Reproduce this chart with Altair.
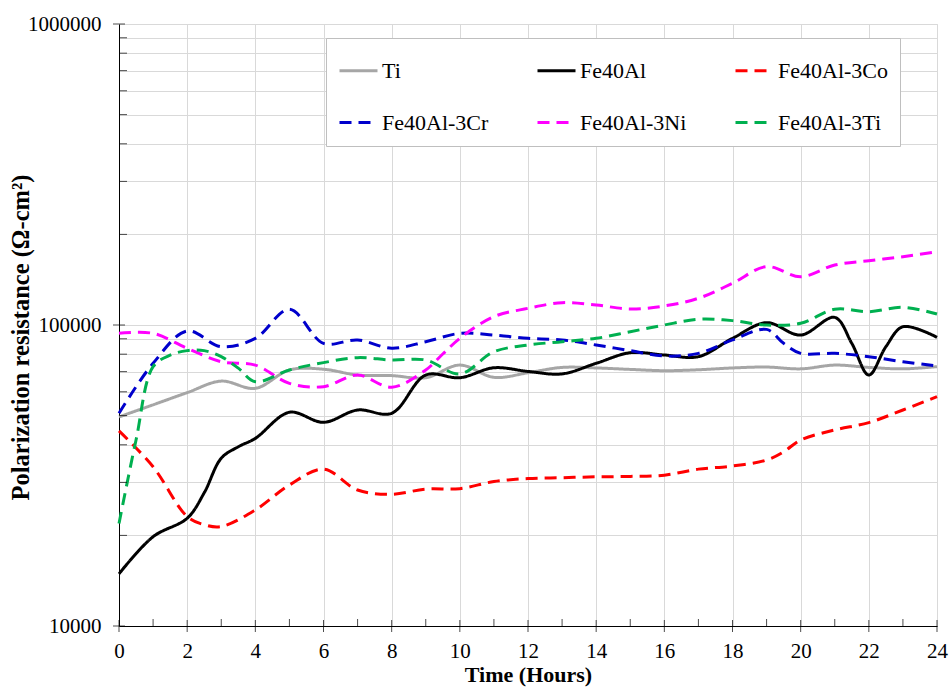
import altair as alt
import pandas as pd

# ---------------- data ----------------
series_names = ["Ti", "Fe40Al", "Fe40Al-3Co", "Fe40Al-3Cr", "Fe40Al-3Ni", "Fe40Al-3Ti"]
series_colors = ["#a6a6a6", "#000000", "#ff0000", "#0000cc", "#ff00ff", "#00b050"]
series_dashes = [[1, 0], [1, 0], [12, 7], [12, 7], [12, 7], [12, 7]]

ti_hours = list(range(25))
ti_vals = [49500, 54300, 59600, 65100, 61600, 70900, 71300, 68200, 67900, 66800,
           73600, 67000, 69400, 72300, 72000, 71200, 70500, 71000, 72000, 72500,
           71500, 73600, 72300, 71500, 72700]

fe_hours = [0, 1, 2, 2.5, 3, 3.5, 4, 5, 6, 7, 8, 9, 10, 11, 12, 13, 14, 15, 16,
            17, 18, 19, 20, 21, 21.5, 22, 22.5, 23, 24]
fe_vals = [14900, 19800, 22800, 27700, 36100, 39400, 42000, 51300, 47500, 52200,
           50900, 68200, 66800, 72100, 70100, 68800, 74600, 80900, 79500, 78500,
           90300, 101800, 92600, 106000, 86900, 68200, 84700, 98700, 91000]

co_hours = [0, 1, 2, 2.5, 3, 4, 5, 6, 7, 8, 9, 10, 11, 12, 13, 14, 15, 16, 17,
            18, 19, 19.5, 20, 21, 22, 23, 24]
co_vals = [44500, 33800, 23100, 21700, 21400, 24300, 29400, 33200, 28300, 27400,
           28500, 28600, 30200, 30900, 31100, 31300, 31400, 31700, 33200, 34000,
           35600, 37900, 41500, 44800, 47400, 52200, 57800]

cr_hours = [0, 1, 2, 3, 4, 5, 6, 7, 8, 9, 10, 11, 12, 13, 14, 15, 16, 17, 18,
            19, 19.5, 20, 21, 22, 23, 24]
cr_vals = [50900, 74600, 95500, 84700, 90300, 112800, 86900, 89200, 83700, 88000,
           93800, 92600, 90300, 89200, 85800, 82200, 78900, 80500, 89200, 96700,
           86900, 80500, 80500, 78500, 75500, 73100]

ni_hours = [0, 1, 2, 3, 4, 5, 6, 7, 8, 9, 9.5, 10, 11, 12, 13, 14, 15, 16, 17,
            18, 19, 20, 21, 22, 23, 24]
ni_vals = [93800, 93800, 83700, 75500, 73600, 64000, 62400, 68200, 62100, 70900,
           80100, 90300, 106600, 113600, 118600, 116500, 113000, 115700, 122700,
           137600, 156300, 144700, 158200, 163600, 168600, 175200]

ti3_hours = [0, 0.5, 1, 1.5, 2, 2.5, 3, 3.5, 4, 5, 6, 7, 8, 9, 10, 11, 12, 13,
             14, 15, 16, 17, 18, 19, 20, 21, 22, 23, 24]
ti3_vals = [21900, 41500, 72700, 79400, 82200, 82200, 78500, 71900, 64800, 70900,
            75000, 77900, 76500, 76500, 68800, 81500, 85800, 88000, 90300, 95000,
            100000, 104500, 103400, 100000, 101300, 112800, 110700, 114500, 108800]

y_major = [10000, 100000, 1000000]
y_minor = [20000, 30000, 40000, 50000, 60000, 70000, 80000, 90000,
           200000, 300000, 400000, 500000, 600000, 700000, 800000, 900000]
x_major = list(range(0, 25, 2))
x_minor = list(range(1, 25, 2))

# ---------------- table ----------------
rows = []
for name, xs, ys in [
    ("Ti", ti_hours, ti_vals),
    ("Fe40Al", fe_hours, fe_vals),
    ("Fe40Al-3Co", co_hours, co_vals),
    ("Fe40Al-3Cr", cr_hours, cr_vals),
    ("Fe40Al-3Ni", ni_hours, ni_vals),
    ("Fe40Al-3Ti", ti3_hours, ti3_vals),
]:
    for x, y in zip(xs, ys):
        rows.append({"series": name, "hour": x, "rp": y})
df = pd.DataFrame(rows)

W, H = 818, 602
FONT = "Liberation Serif"

x_scale = alt.Scale(domain=[0, 24], nice=False, zero=False)
y_scale = alt.Scale(type="log", domain=[10000, 1000000], nice=False)

x_axis = alt.Axis(
    values=x_major, title="Time (Hours)", grid=True, gridColor="#d9d9d9",
    ticks=False, domainColor="black", labelFont=FONT, labelFontSize=21,
    labelColor="black", labelPadding=14, labelFlush=False, labelOverlap=False,
    titleFont=FONT, titleFontSize=22, titleFontWeight="bold", titleColor="black",
    titleY=55, titleBaseline="alphabetic",
)
y_axis = alt.Axis(
    values=y_major + y_minor, format="d",
    labelExpr="(datum.value == 10000 || datum.value == 100000 || datum.value == 1000000) ? datum.label : ''",
    title="Polarization resistance (Ω-cm²)", grid=True, gridColor="#d9d9d9",
    ticks=False, domainColor="black", labelFont=FONT, labelFontSize=21,
    labelColor="black", labelPadding=18, labelOverlap=False, labelFlush=False,
    titleFont=FONT, titleFontSize=24.5, titleFontWeight="bold", titleColor="black",
    titleX=-86, titleY=313, titleBaseline="bottom", titleAngle=270,
)

legend_def = alt.Legend(
    title=None, orient="none", legendX=207, legendY=14, columns=3,
    direction="horizontal",
    columnPadding=42, rowPadding=20, symbolType="stroke", symbolSize=1444,
    symbolStrokeWidth=3, labelFont=FONT, labelFontSize=22, labelColor="black",
    labelOffset=3, padding=12, fillColor="white", strokeColor="#bfbfbf",
    labelLimit=300,
)

lines = alt.Chart(df).mark_line(strokeWidth=3, interpolate="catmull-rom").encode(
    x=alt.X("hour:Q", scale=x_scale, axis=x_axis),
    y=alt.Y("rp:Q", scale=y_scale, axis=y_axis),
    color=alt.Color("series:N", scale=alt.Scale(domain=series_names, range=series_colors),
                    legend=legend_def),
    strokeDash=alt.StrokeDash("series:N", scale=alt.Scale(domain=series_names, range=series_dashes),
                              legend=legend_def),
    order=alt.Order("hour:Q"),
)

ytick_major = alt.Chart(pd.DataFrame({"rp": y_major})).mark_tick(
    size=12, thickness=1, color="black").encode(
    y=alt.Y("rp:Q", scale=y_scale), x=alt.value(0))
ytick_minor = alt.Chart(pd.DataFrame({"rp": y_minor})).mark_tick(
    size=8, thickness=1, color="black").encode(
    y=alt.Y("rp:Q", scale=y_scale), x=alt.value(4))
xtick_major = alt.Chart(pd.DataFrame({"hour": x_major})).mark_tick(
    size=12, thickness=1, color="black").encode(
    x=alt.X("hour:Q", scale=x_scale), y=alt.value(H))
xtick_minor = alt.Chart(pd.DataFrame({"hour": x_minor})).mark_tick(
    size=7, thickness=1, color="black").encode(
    x=alt.X("hour:Q", scale=x_scale), y=alt.value(H - 3.5))

chart = alt.layer(lines, ytick_major, ytick_minor, xtick_major, xtick_minor).properties(
    width=W, height=H,
    autosize=alt.AutoSizeParams(type="none"),
    padding={"left": 119, "top": 24, "right": 12, "bottom": 61},
).configure_view(stroke="#404040", strokeWidth=1).configure(
    font=FONT, background="white"
).configure_legend(labelFont=FONT)

chart.save("out.html", embed_options={"renderer": "svg", "actions": False})
